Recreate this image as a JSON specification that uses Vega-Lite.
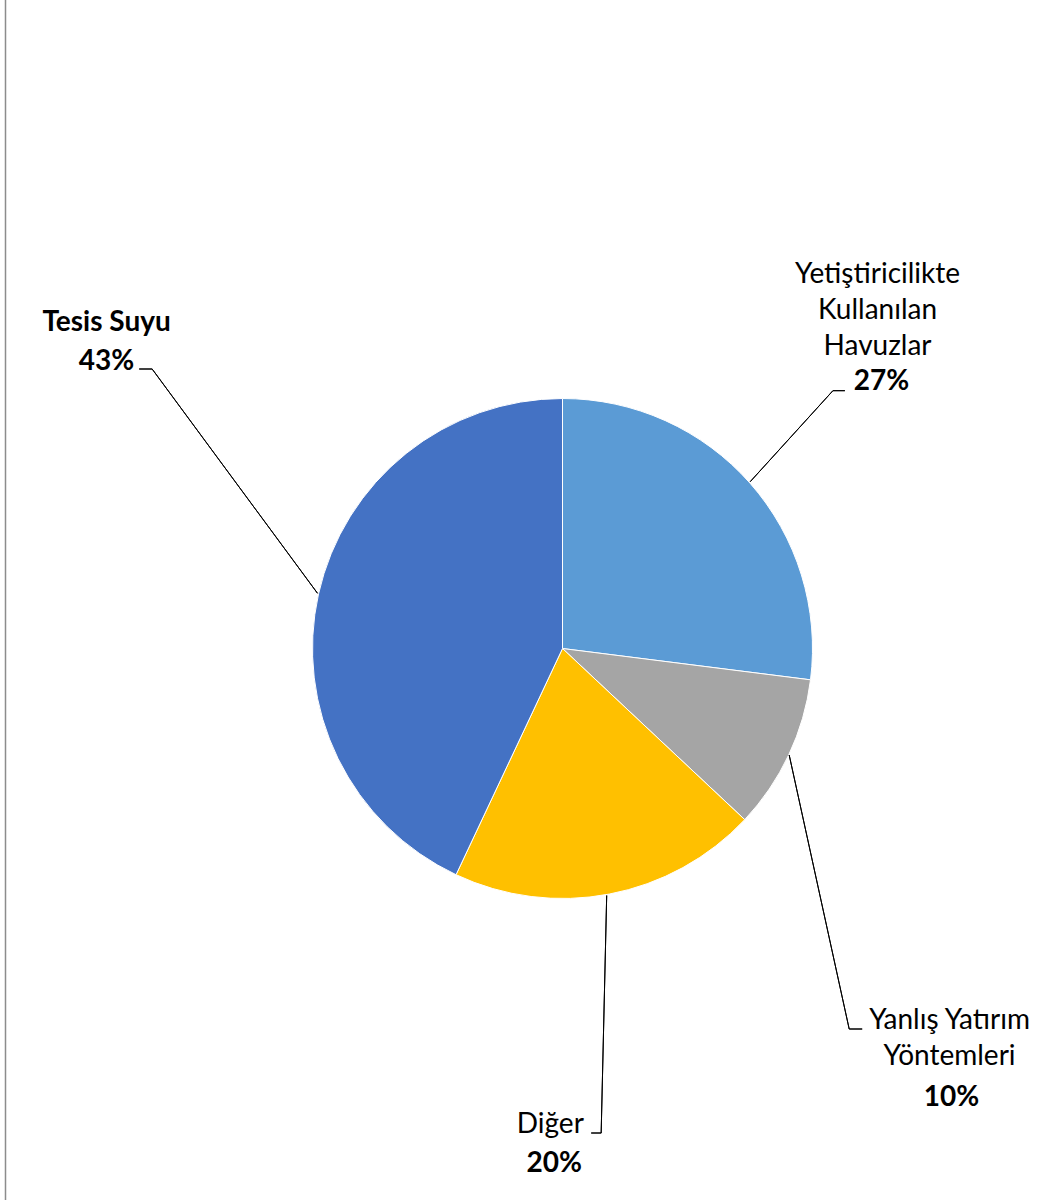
{
  "$schema": "https://vega.github.io/schema/vega-lite/v6.json",
  "autosize": {"type": "none"},
  "width": 1115,
  "height": 1301,
  "padding": {"left": 5, "top": -2, "right": -71, "bottom": -99},
  "background": "#ffffff",
  "config": {
    "view": {"stroke": null},
    "text": {"font": "Lato", "fontSize": 28, "color": "#000000", "align": "center", "baseline": "alphabetic", "lineBreak": "\n", "lineHeight": 36},
    "arc": {"fill": "transparent", "stroke": "#000000", "strokeWidth": 1, "padAngle": 3.14}
  },
  "data": {
    "values": [
      {"idx": 1, "category": "Yetiştiricilikte Kullanılan Havuzlar", "name": "Yetiştiricilikte\nKullanılan\nHavuzlar", "value": 27, "label": "27%"},
      {"idx": 2, "category": "Yanlış Yatırım Yöntemleri", "name": "Yanlış Yatırım\nYöntemleri", "value": 10, "label": "10%"},
      {"idx": 3, "category": "Diğer", "name": "Diğer", "value": 20, "label": "20%"},
      {"idx": 4, "category": "Tesis Suyu", "name": "Tesis Suyu", "value": 43, "label": "43%"}
    ]
  },
  "layer": [
    {
      "mark": {"type": "rule", "strokeOpacity": 0},
      "encoding": {
        "y": {
          "field": "value",
          "type": "quantitative",
          "axis": {"domain": true, "domainColor": "#8c8c8c", "domainWidth": 1.5, "ticks": false, "labels": false, "grid": false, "title": null}
        }
      }
    },
    {
      "mark": {"type": "arc", "outerRadius": 250, "stroke": "#ffffff", "strokeWidth": 1, "padAngle": 0},
      "encoding": {
        "theta": {"field": "value", "type": "quantitative", "stack": true},
        "order": {"field": "idx", "type": "quantitative"},
        "color": {
          "field": "category",
          "type": "nominal",
          "sort": null,
          "scale": {
            "domain": ["Yetiştiricilikte Kullanılan Havuzlar", "Yanlış Yatırım Yöntemleri", "Diğer", "Tesis Suyu"],
            "range": ["#5b9bd5", "#a5a5a5", "#ffc000", "#4472c4"]
          },
          "legend": null
        }
      }
    },
    {
      "mark": {"type": "arc", "radius": 123, "radius2": 0, "thetaOffset": -0.1105, "xOffset": 187.7, "yOffset": -166.8},
      "encoding": {
        "theta": {"field": "value", "type": "quantitative", "stack": true},
        "order": {"field": "idx", "type": "quantitative"},
        "detail": {"field": "category", "type": "nominal"},
        "strokeOpacity": {"condition": {"test": "datum.idx === 1", "value": 1}, "value": 0}
      }
    },
    {
      "mark": {"type": "arc", "radius": 12, "radius2": 0, "thetaOffset": 0.7226, "xOffset": 270.4, "yOffset": -257.8},
      "encoding": {
        "theta": {"field": "value", "type": "quantitative", "stack": true},
        "order": {"field": "idx", "type": "quantitative"},
        "detail": {"field": "category", "type": "nominal"},
        "strokeOpacity": {"condition": {"test": "datum.idx === 1", "value": 1}, "value": 0}
      }
    },
    {
      "mark": {"type": "arc", "radius": 280.5, "radius2": 0, "thetaOffset": 0.9154, "xOffset": 226.7, "yOffset": 106.5},
      "encoding": {
        "theta": {"field": "value", "type": "quantitative", "stack": true},
        "order": {"field": "idx", "type": "quantitative"},
        "detail": {"field": "category", "type": "nominal"},
        "strokeOpacity": {"condition": {"test": "datum.idx === 2", "value": 1}, "value": 0}
      }
    },
    {
      "mark": {"type": "arc", "radius": 13, "radius2": 0, "thetaOffset": -0.4398, "xOffset": 286.7, "yOffset": 380.5},
      "encoding": {
        "theta": {"field": "value", "type": "quantitative", "stack": true},
        "order": {"field": "idx", "type": "quantitative"},
        "detail": {"field": "category", "type": "nominal"},
        "strokeOpacity": {"condition": {"test": "datum.idx === 2", "value": 1}, "value": 0}
      }
    },
    {
      "mark": {"type": "arc", "radius": 237.6, "radius2": 0, "thetaOffset": 0.2118, "xOffset": 44.2, "yOffset": 247},
      "encoding": {
        "theta": {"field": "value", "type": "quantitative", "stack": true},
        "order": {"field": "idx", "type": "quantitative"},
        "detail": {"field": "category", "type": "nominal"},
        "strokeOpacity": {"condition": {"test": "datum.idx === 3", "value": 1}, "value": 0}
      }
    },
    {
      "mark": {"type": "arc", "radius": 10, "radius2": 0, "thetaOffset": 1.7593, "xOffset": 38.7, "yOffset": 484.5},
      "encoding": {
        "theta": {"field": "value", "type": "quantitative", "stack": true},
        "order": {"field": "idx", "type": "quantitative"},
        "detail": {"field": "category", "type": "nominal"},
        "strokeOpacity": {"condition": {"test": "datum.idx === 3", "value": 1}, "value": 0}
      }
    },
    {
      "mark": {"type": "arc", "radius": 278.6, "radius2": 0, "thetaOffset": 0.7156, "xOffset": -245, "yOffset": -55.2},
      "encoding": {
        "theta": {"field": "value", "type": "quantitative", "stack": true},
        "order": {"field": "idx", "type": "quantitative"},
        "detail": {"field": "category", "type": "nominal"},
        "strokeOpacity": {"condition": {"test": "datum.idx === 4", "value": 1}, "value": 0}
      }
    },
    {
      "mark": {"type": "arc", "radius": 13, "radius2": 0, "thetaOffset": -0.2201, "xOffset": -410.3, "yOffset": -279.5},
      "encoding": {
        "theta": {"field": "value", "type": "quantitative", "stack": true},
        "order": {"field": "idx", "type": "quantitative"},
        "detail": {"field": "category", "type": "nominal"},
        "strokeOpacity": {"condition": {"test": "datum.idx === 4", "value": 1}, "value": 0}
      }
    },
    {
      "mark": {"type": "text", "radius": 420, "dx": 0, "dy": -88},
      "encoding": {
        "theta": {"field": "value", "type": "quantitative", "stack": true},
        "order": {"field": "idx", "type": "quantitative"},
        "detail": {"field": "category", "type": "nominal"},
        "text": {"condition": {"test": "datum.idx === 1", "field": "name", "type": "nominal"}, "value": ""}
      }
    },
    {
      "mark": {"type": "text", "radius": 420, "dx": 4, "dy": 19, "fontWeight": "bold"},
      "encoding": {
        "theta": {"field": "value", "type": "quantitative", "stack": true},
        "order": {"field": "idx", "type": "quantitative"},
        "detail": {"field": "category", "type": "nominal"},
        "text": {"condition": {"test": "datum.idx === 1", "field": "label", "type": "nominal"}, "value": ""}
      }
    },
    {
      "mark": {"type": "text", "radius": 430, "dx": -2, "dy": 197},
      "encoding": {
        "theta": {"field": "value", "type": "quantitative", "stack": true},
        "order": {"field": "idx", "type": "quantitative"},
        "detail": {"field": "category", "type": "nominal"},
        "text": {"condition": {"test": "datum.idx === 2", "field": "name", "type": "nominal"}, "value": ""}
      }
    },
    {
      "mark": {"type": "text", "radius": 430, "dx": 0, "dy": 274, "fontWeight": "bold"},
      "encoding": {
        "theta": {"field": "value", "type": "quantitative", "stack": true},
        "order": {"field": "idx", "type": "quantitative"},
        "detail": {"field": "category", "type": "nominal"},
        "text": {"condition": {"test": "datum.idx === 2", "field": "label", "type": "nominal"}, "value": ""}
      }
    },
    {
      "mark": {"type": "text", "radius": 490, "dx": -104, "dy": 3},
      "encoding": {
        "theta": {"field": "value", "type": "quantitative", "stack": true},
        "order": {"field": "idx", "type": "quantitative"},
        "detail": {"field": "category", "type": "nominal"},
        "text": {"condition": {"test": "datum.idx === 3", "field": "name", "type": "nominal"}, "value": ""}
      }
    },
    {
      "mark": {"type": "text", "radius": 490, "dx": -100, "dy": 42, "fontWeight": "bold"},
      "encoding": {
        "theta": {"field": "value", "type": "quantitative", "stack": true},
        "order": {"field": "idx", "type": "quantitative"},
        "detail": {"field": "category", "type": "nominal"},
        "text": {"condition": {"test": "datum.idx === 3", "field": "label", "type": "nominal"}, "value": ""}
      }
    },
    {
      "mark": {"type": "text", "radius": 460, "dx": -7, "dy": -217, "fontWeight": "bold"},
      "encoding": {
        "theta": {"field": "value", "type": "quantitative", "stack": true},
        "order": {"field": "idx", "type": "quantitative"},
        "detail": {"field": "category", "type": "nominal"},
        "text": {"condition": {"test": "datum.idx === 4", "field": "name", "type": "nominal"}, "value": ""}
      }
    },
    {
      "mark": {"type": "text", "radius": 460, "dx": -7, "dy": -178, "fontWeight": "bold"},
      "encoding": {
        "theta": {"field": "value", "type": "quantitative", "stack": true},
        "order": {"field": "idx", "type": "quantitative"},
        "detail": {"field": "category", "type": "nominal"},
        "text": {"condition": {"test": "datum.idx === 4", "field": "label", "type": "nominal"}, "value": ""}
      }
    }
  ]
}
